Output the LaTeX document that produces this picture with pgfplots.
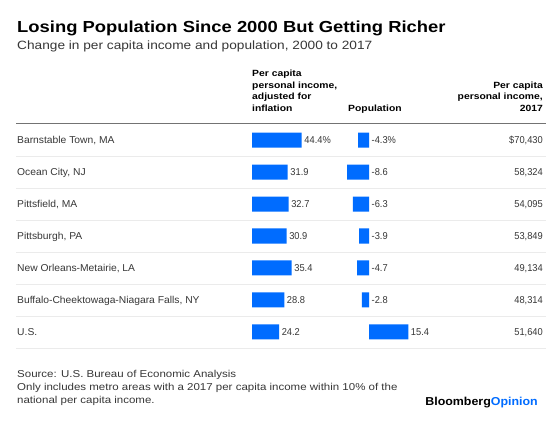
\documentclass[border=0pt]{standalone}
\usepackage{pgfplots}
\pgfplotsset{compat=1.18}
\usepackage{fontspec}
\setmainfont{Liberation Sans}
\newfontfamily\wideA[FakeStretch=1.15]{Liberation Sans}
\newfontfamily\wideB[FakeStretch=1.14]{Liberation Sans}
\newfontfamily\wideC[FakeStretch=1.08]{Liberation Sans}
\newfontfamily\wideD[FakeStretch=1.03]{Liberation Sans}
\newfontfamily\narrow[FakeStretch=0.93]{Liberation Sans}
\definecolor{barblue}{RGB}{0,108,255}
\definecolor{txt}{RGB}{55,55,55}
\definecolor{sep}{RGB}{235,235,235}
\newcommand{\fs}[1]{\fontsize{#1}{#1}\selectfont}
\begin{document}
\begin{tikzpicture}[x=1pt,y=1pt]
\fill[white] (0,0) rectangle (560,-425);
% titles
\node[anchor=base west,inner sep=0] at (17,-32.5) {\wideA\fs{16}\bfseries Losing Population Since 2000 But Getting Richer};
\node[anchor=base west,inner sep=0,text=txt] at (17,-50) {\wideB\fs{12}Change in per capita income and population, 2000 to 2017};
% headers
\foreach \t/\yy in {Per capita/77,{personal income,}/88.5,adjusted for/100,inflation/111.5}
  \node[anchor=base west,inner sep=0] at (252,-\yy) {\wideA\fs{9}\bfseries \t};
\node[anchor=base west,inner sep=0] at (348,-111.5) {\wideA\fs{9}\bfseries Population};
\foreach \t/\yy in {Per capita/88.5,{personal income,}/100,2017/111.5}
  \node[anchor=base east,inner sep=0] at (543,-\yy) {\wideA\fs{9}\bfseries \t};
\draw[color=gray!90!black,line width=1pt] (16,-124) -- (546,-124);
% row separators
\foreach \i in {0,...,6}
  \draw[color=sep,line width=0.8pt] (16,-156.5-32*\i) -- (546,-156.5-32*\i);
% row labels and right values
\foreach \t/\v [count=\i from 0] in {{Barnstable Town, MA}/\$70{,}430,{Ocean City, NJ}/58{,}324,{Pittsfield, MA}/54{,}095,{Pittsburgh, PA}/53{,}849,{New Orleans-Metairie, LA}/49{,}134,{Buffalo-Cheektowaga-Niagara Falls, NY}/48{,}314,U.S./51{,}640}{
  \node[anchor=west,inner sep=0,text=txt] at (17,-140.5-32*\i) {\wideD\fs{10}\t};
  \node[anchor=east,inner sep=0,text=txt] at (543,-140.5-32*\i) {\narrow\fs{10}\v};
}
% income axis
\begin{axis}[at={(252pt,-124pt)}, anchor=north west, scale only axis,
  width=56pt, height=224pt, xmin=0, xmax=50, ymin=-0.5, ymax=6.5,
  y dir=reverse, axis lines=none, clip=false]
\addplot[xbar, bar width=15pt, fill=barblue, draw=none,
  nodes near coords, point meta=explicit symbolic,
  nodes near coords style={font=\narrow\fs{10}, text=txt, anchor=west, inner sep=2.5pt}]
  coordinates {(44.4,0)[44.4\%] (31.9,1)[31.9] (32.7,2)[32.7] (30.9,3)[30.9]
               (35.4,4)[35.4] (28.8,5)[28.8] (24.2,6)[24.2]};
\end{axis}
% population axis
\begin{axis}[at={(343.5pt,-124pt)}, anchor=north west, scale only axis,
  width=66.3pt, height=224pt, xmin=-10, xmax=16, ymin=-0.5, ymax=6.5,
  y dir=reverse, axis lines=none, clip=false]
\addplot[xbar, bar width=15pt, fill=barblue, draw=none]
  coordinates {(-4.3,0) (-8.6,1) (-6.3,2) (-3.9,3) (-4.7,4) (-2.8,5) (15.4,6)};
\addplot[draw=none, mark=none, nodes near coords, point meta=explicit symbolic,
  nodes near coords style={font=\narrow\fs{10}, text=txt, anchor=west, inner sep=2.5pt}]
  coordinates {(0,0)[-4.3\%] (0,1)[-8.6] (0,2)[-6.3] (0,3)[-3.9]
               (0,4)[-4.7] (0,5)[-2.8] (15.4,6)[15.4]};
\end{axis}
% footer
\node[anchor=base west,inner sep=0,text=txt] at (17,-377.7) {\wideA\fs{10}Source: U.S. Bureau of Economic Analysis};
\node[anchor=base west,inner sep=0,text=txt] at (17,-390.7) {\wideA\fs{10}Only includes metro areas with a 2017 per capita income within 10\% of the};
\node[anchor=base west,inner sep=0,text=txt] at (17,-403.3) {\wideA\fs{10}national per capita income.};
\node[anchor=base east,inner sep=0] at (538,-405) {\wideC\fs{11.5}\bfseries Bloomberg\textcolor{barblue}{Opinion}};
\end{tikzpicture}
\end{document}
